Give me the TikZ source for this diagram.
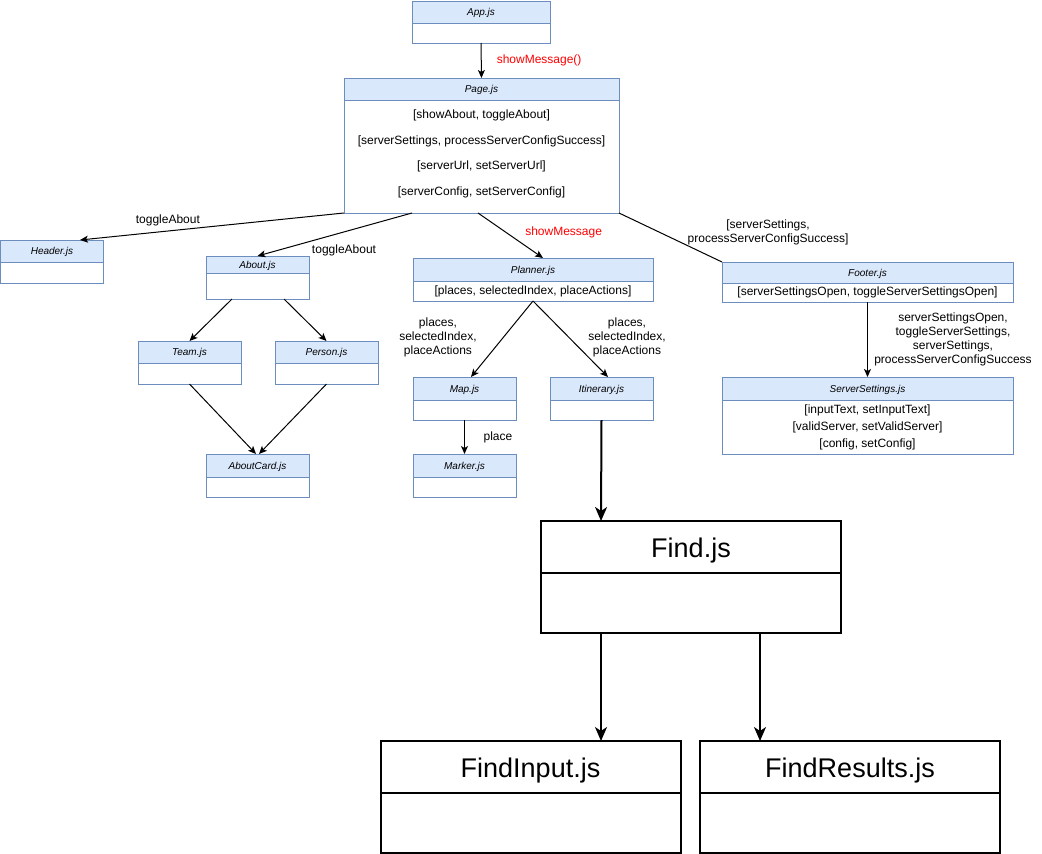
\documentclass[tikz,border=0pt]{standalone}
\usepackage{fontspec}
\setmainfont{Liberation Sans}
\usepackage{xcolor}
\usetikzlibrary{arrows.meta, positioning}
\definecolor{umlfill}{HTML}{DAE8FC}
\definecolor{umlline}{HTML}{6C8EBF}
\definecolor{msgred}{HTML}{FF0000}
\newcommand{\clsfont}{\fontsize{10}{12}\selectfont\itshape}
\newcommand{\lblfont}{\fontsize{12}{14}\selectfont}
\newcommand{\findfont}{\fontsize{27}{32}\selectfont}

\begin{document}
\begin{tikzpicture}[
    x=1pt, y=-1pt,
    >={Stealth[length=8pt, width=7pt, inset=2pt]},
    clshead/.style={draw=umlline, fill=umlfill, line width=1pt, minimum width=#1, minimum height=22pt, inner sep=0pt, outer sep=0pt, text height=7.5pt, text depth=0pt, font=\clsfont},
    clsbody/.style={draw=umlline, fill=white, line width=1pt, minimum width=#1, minimum height=20pt, inner sep=0pt, outer sep=0pt, align=center, font=\lblfont},
    findhead/.style={draw, line width=2pt, fill=white, minimum width=300pt, minimum height=52pt, inner sep=0pt, outer sep=0pt, text height=21.4pt, text depth=0pt, font=\findfont},
    findbody/.style={draw, line width=2pt, fill=white, minimum width=300pt, minimum height=60pt, inner sep=0pt, outer sep=0pt},
    lbl/.style={font=\lblfont, align=center, inner sep=1pt},
    msg/.style={lbl, text=msgred},
    call/.style={->, line width=1pt},
    heavy/.style={-{Stealth[length=14pt, width=12pt, inset=4pt]}, line width=2pt},
]
    \useasboundingbox (0, 0) rectangle (1042, 854);

    % App
    \node[clshead=138pt] (app) at (481, 12) {App.js};
    \node[clsbody=138pt, below=0pt of app] (appb) {};

    % Page
    \node[clshead=275pt] (page) at (481.5, 89) {Page.js};
    \node[clsbody=275pt, minimum height=113pt, text depth=8pt, below=0pt of page] (pageb) {[showAbout, toggleAbout]\\[11.7pt][serverSettings, processServerConfigSuccess]\\[11.7pt][serverUrl, setServerUrl]\\[11.7pt][serverConfig, setServerConfig]};

    % Header and About branch
    \node[clshead=103pt] (hdr) at (52, 251) {Header.js};
    \node[clsbody=103pt, minimum height=21pt, below=0pt of hdr] (hdrb) {};
    \node[clshead=103pt, minimum height=17pt] (about) at (257.5, 264.5) {About.js};
    \node[clsbody=103pt, minimum height=26pt, below=0pt of about] (aboutb) {};
    \node[clshead=103pt] (team) at (189.5, 352) {Team.js};
    \node[clsbody=103pt, minimum height=21pt, below=0pt of team] (teamb) {};
    \node[clshead=103pt] (person) at (326.5, 352) {Person.js};
    \node[clsbody=103pt, minimum height=21pt, below=0pt of person] (personb) {};
    \node[clshead=103pt, minimum height=23pt] (card) at (257.5, 465.5) {AboutCard.js};
    \node[clsbody=103pt, below=0pt of card] (cardb) {};

    % Planner branch
    \node[clshead=240pt, minimum height=23pt] (planner) at (533, 269.5) {Planner.js};
    \node[clsbody=240pt, below=0pt of planner] (plannerb) {[places, selectedIndex, placeActions]};
    \node[clshead=103pt, minimum height=23pt] (map) at (464.5, 388.5) {Map.js};
    \node[clsbody=103pt, below=0pt of map] (mapb) {};
    \node[clshead=103pt, minimum height=23pt] (itin) at (601.5, 388.5) {Itinerary.js};
    \node[clsbody=103pt, below=0pt of itin] (itinb) {};
    \node[clshead=103pt, minimum height=23pt] (marker) at (464.5, 465.5) {Marker.js};
    \node[clsbody=103pt, below=0pt of marker] (markerb) {};

    % Footer branch
    \node[clshead=291pt, minimum height=21pt] (footer) at (867.5, 272.5) {Footer.js};
    \node[clsbody=291pt, minimum height=19pt, below=0pt of footer] (footerb) {[serverSettingsOpen, toggleServerSettingsOpen]};
    \node[clshead=291pt, minimum height=23pt] (ss) at (867.5, 388.5) {ServerSettings.js};
    \node[clsbody=291pt, minimum height=54pt, below=0pt of ss] (ssb) {[inputText, setInputText]\\[3pt][validServer, setValidServer]\\[3pt][config, setConfig]};

    % Find
    \node[findhead] (find) at (691, 547) {Find.js};
    \node[findbody, below=0pt of find] (findb) {};
    \node[findhead] (findin) at (530.5, 767) {FindInput.js};
    \node[findbody, below=0pt of findin] (findinb) {};
    \node[findhead] (findres) at (850, 767) {FindResults.js};
    \node[findbody, below=0pt of findres] (findresb) {};

    % props handed down
    \draw[call] (appb.south) -- node[msg, midway, anchor=west, xshift=14pt] {showMessage()} (page.north);
    \draw[call] (pageb.south west) -- node[lbl, pos=0.667, yshift=11pt] {toggleAbout} ([xshift=28pt]hdr.north);
    \draw[call] ([xshift=-69.5pt]pageb.south) -- node[lbl, pos=0.44, yshift=-18pt] {toggleAbout} (about.north);
    \draw[call] ([xshift=-3.5pt]pageb.south) -- node[msg, pos=0.42, anchor=west, xshift=18.5pt] {showMessage} ([xshift=10pt]planner.north);
    \draw[line width=1pt] (pageb.south east) -- node[lbl, pos=0.39, anchor=west, xshift=27pt] {[serverSettings,\\processServerConfigSuccess]} (footer.north west);

    \draw[call] ([xshift=-25.5pt]aboutb.south) -- (team.north);
    \draw[call] ([xshift=26.5pt]aboutb.south) -- (person.north);
    \draw[call] (teamb.south) -- ([xshift=-1.5pt]card.north);
    \draw[call] (personb.south) -- ([xshift=1.5pt]card.north);

    \draw[call] (plannerb.south) -- node[lbl, pos=0.46, xshift=-66.5pt, yshift=-1pt] {places,\\selectedIndex,\\placeActions} ([xshift=6.5pt]map.north);
    \draw[call] (plannerb.south) -- node[lbl, pos=0.46, xshift=59.5pt, yshift=-1pt] {places,\\selectedIndex,\\placeActions} ([xshift=6.5pt]itin.north);
    \draw[call] (mapb.south) -- node[lbl, midway, xshift=33.5pt] {place} (marker.north);

    \draw[call] (footerb.south) -- node[lbl, midway, xshift=85.5pt] {serverSettingsOpen,\\toggleServerSettings,\\serverSettings,\\processServerConfigSuccess} (ss.north);

    \draw[heavy] (itinb.south) -- ([xshift=-90pt]find.north);
    \draw[heavy] ([xshift=-90pt]findb.south) -- ([xshift=70.5pt]findin.north);
    \draw[heavy] ([xshift=69pt]findb.south) -- ([xshift=-90pt]findres.north);
\end{tikzpicture}
\end{document}
